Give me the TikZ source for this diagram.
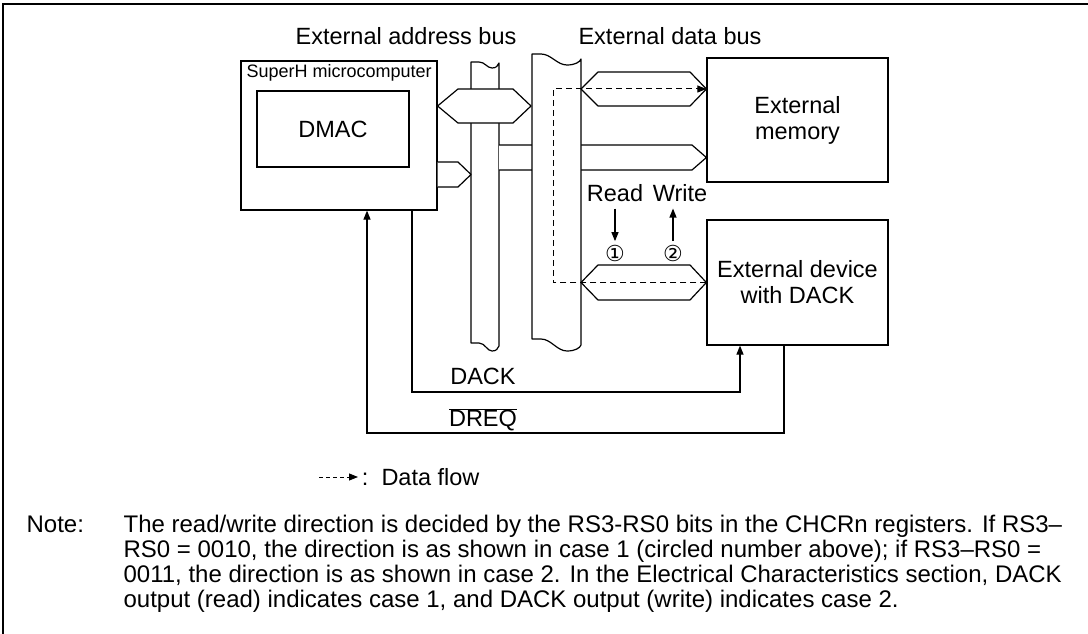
\documentclass[tikz,border=0pt]{standalone}
\usepackage{fontspec}
\setmainfont{Liberation Sans}
\newfontfamily\circfont{DejaVu Sans}
\usetikzlibrary{arrows.meta,positioning}

\begin{document}
\begin{tikzpicture}[
    x=1pt, y=-1pt, line width=1.2pt,
    font=\fontsize{23.5}{26}\selectfont,
    blk/.style={rectangle, draw, inner sep=0pt, align=center},
    bus/.style={draw, fill=white, line join=round},
    sig/.style={-{Triangle[length=9pt,width=7pt]}},
    flow/.style={dash pattern=on 6pt off 4pt, line width=1pt,
                 -{Triangle[length=9pt,width=7pt]}},
    arr/.style={-{Triangle[length=9pt,width=7pt]}},
    circ/.style={inner sep=1pt, font=\fontsize{22}{22}\circfont}
]
\useasboundingbox (0,0) rectangle (1088,634);
% frame
\draw[line width=1.4pt] (3,634) -- (3,4) -- (1088,4);

% boxes
\node[blk, minimum width=196pt, minimum height=149pt] (superh) at (339,135.5) {};
\node[anchor=north west, inner sep=0pt, font=\fontsize{18}{20}\selectfont]
    (shlbl) at (246,64) {SuperH microcomputer};
\node[blk, minimum width=152pt, minimum height=76pt] (dmac) at (333,129) {DMAC};
\node[blk, minimum width=181pt, minimum height=124pt] (mem) at (797.5,120) {External\\memory};
\node[blk, minimum width=181pt, minimum height=125pt] (dev) at (797.5,282.5) {External device\\with DACK};

% address bus
\draw[bus] (471,62) -- (479,62) .. controls (485,62) and (487,68) .. (492,68)
    .. controls (496,68) and (498,66) .. (499,63) -- (499,346)
    .. controls (498,349) and (496,351) .. (492,351)
    .. controls (487,351) and (485,343) .. (479,343) -- (471,343) -- cycle;
% address out to memory
\draw[bus] (499,145) -- (692,145) -- (mem.west |- 0,157.5) -- (692,170) -- (499,170);
% data bus
\draw[bus] (532,54) -- (541,54) .. controls (551,54) and (557,65) .. (567,65)
    .. controls (575,65) and (580,62) .. (581,59) -- (581,345)
    .. controls (580,348) and (575,351) .. (567,351)
    .. controls (557,351) and (551,339) .. (541,339) -- (532,339) -- cycle;

% bus arrows
\draw[bus] (superh.east |- 0,106) -- (458,89) -- (513,89) -- (531,106) -- (513,123) -- (458,123) -- cycle;
\draw[bus] (superh.east |- 0,162) -- (458,162) -- (471,174.5) -- (458,187) -- (superh.east |- 0,187);
\draw[bus] (581,89) -- (598,72) -- (690,72) -- (mem.west |- 0,89) -- (690,106) -- (598,106) -- cycle;
\draw[bus] (581,282.5) -- (598,265) -- (690,265) -- (dev.west) -- (690,300) -- (598,300) -- cycle;

% data flow
\coordinate (turn) at (553,89);
\draw[flow] (dev.west) -| (turn) -- (turn -| mem.west);

% read / write
\node (rd) at (615,193) {Read};
\node (wr) at (680,193) {Write};
\node[circ] (c1) at (615,253) {①};
\node[circ] (c2) at (673,253) {②};
\draw[arr, shorten <=3pt, shorten >=2pt] (rd.south -| c1) -- (c1.north);
\draw[arr, shorten <=2pt, shorten >=3pt] (c2.north) -- (c2.north |- wr.south);

% bus labels
\node (abus) at (406,36) {External address bus};
\node (dbus) at (670,36) {External data bus};

% DACK and DREQ
\coordinate (dk1) at (412,392);
\coordinate (dk2) at (740,392);
\draw[sig] (superh.south -| dk1) -- (dk1) -- (dk2) -- (dev.south -| dk2);
\node (dack) at (483,376) {DACK};
\coordinate (dq1) at (784,433);
\coordinate (dq2) at (367,433);
\draw[sig] (dev.south -| dq1) -- (dq1) -- (dq2) -- (superh.south -| dq2);
\node (dreq) at (483,420) {$\overline{\mbox{DREQ}}$};

% legend
\node[anchor=west] (lgtxt) at (358,477) {:\ \ Data flow};
\coordinate (lga) at (319,477);
\draw[flow, dash pattern=on 4pt off 3pt, line width=0.9pt] (lga) -- (lgtxt.west);

% note
\coordinate (notex) at (123,0);
\node[anchor=base west, inner sep=0pt, font=\fontsize{24}{25}\selectfont] (notelbl) at (26,532) {Note:};
\node[anchor=north west, inner sep=0pt, align=left, font=\fontsize{24}{25}\selectfont]
    (notetxt) at (notelbl.north -| notex)
    {The read/write direction is decided by the RS3-RS0 bits in the CHCRn registers. If RS3–\\
     RS0 = 0010, the direction is as shown in case 1 (circled number above); if RS3–RS0 =\\
     0011, the direction is as shown in case 2. In the Electrical Characteristics section, DACK\\
     output (read) indicates case 1, and DACK output (write) indicates case 2.};
\end{tikzpicture}
\end{document}
